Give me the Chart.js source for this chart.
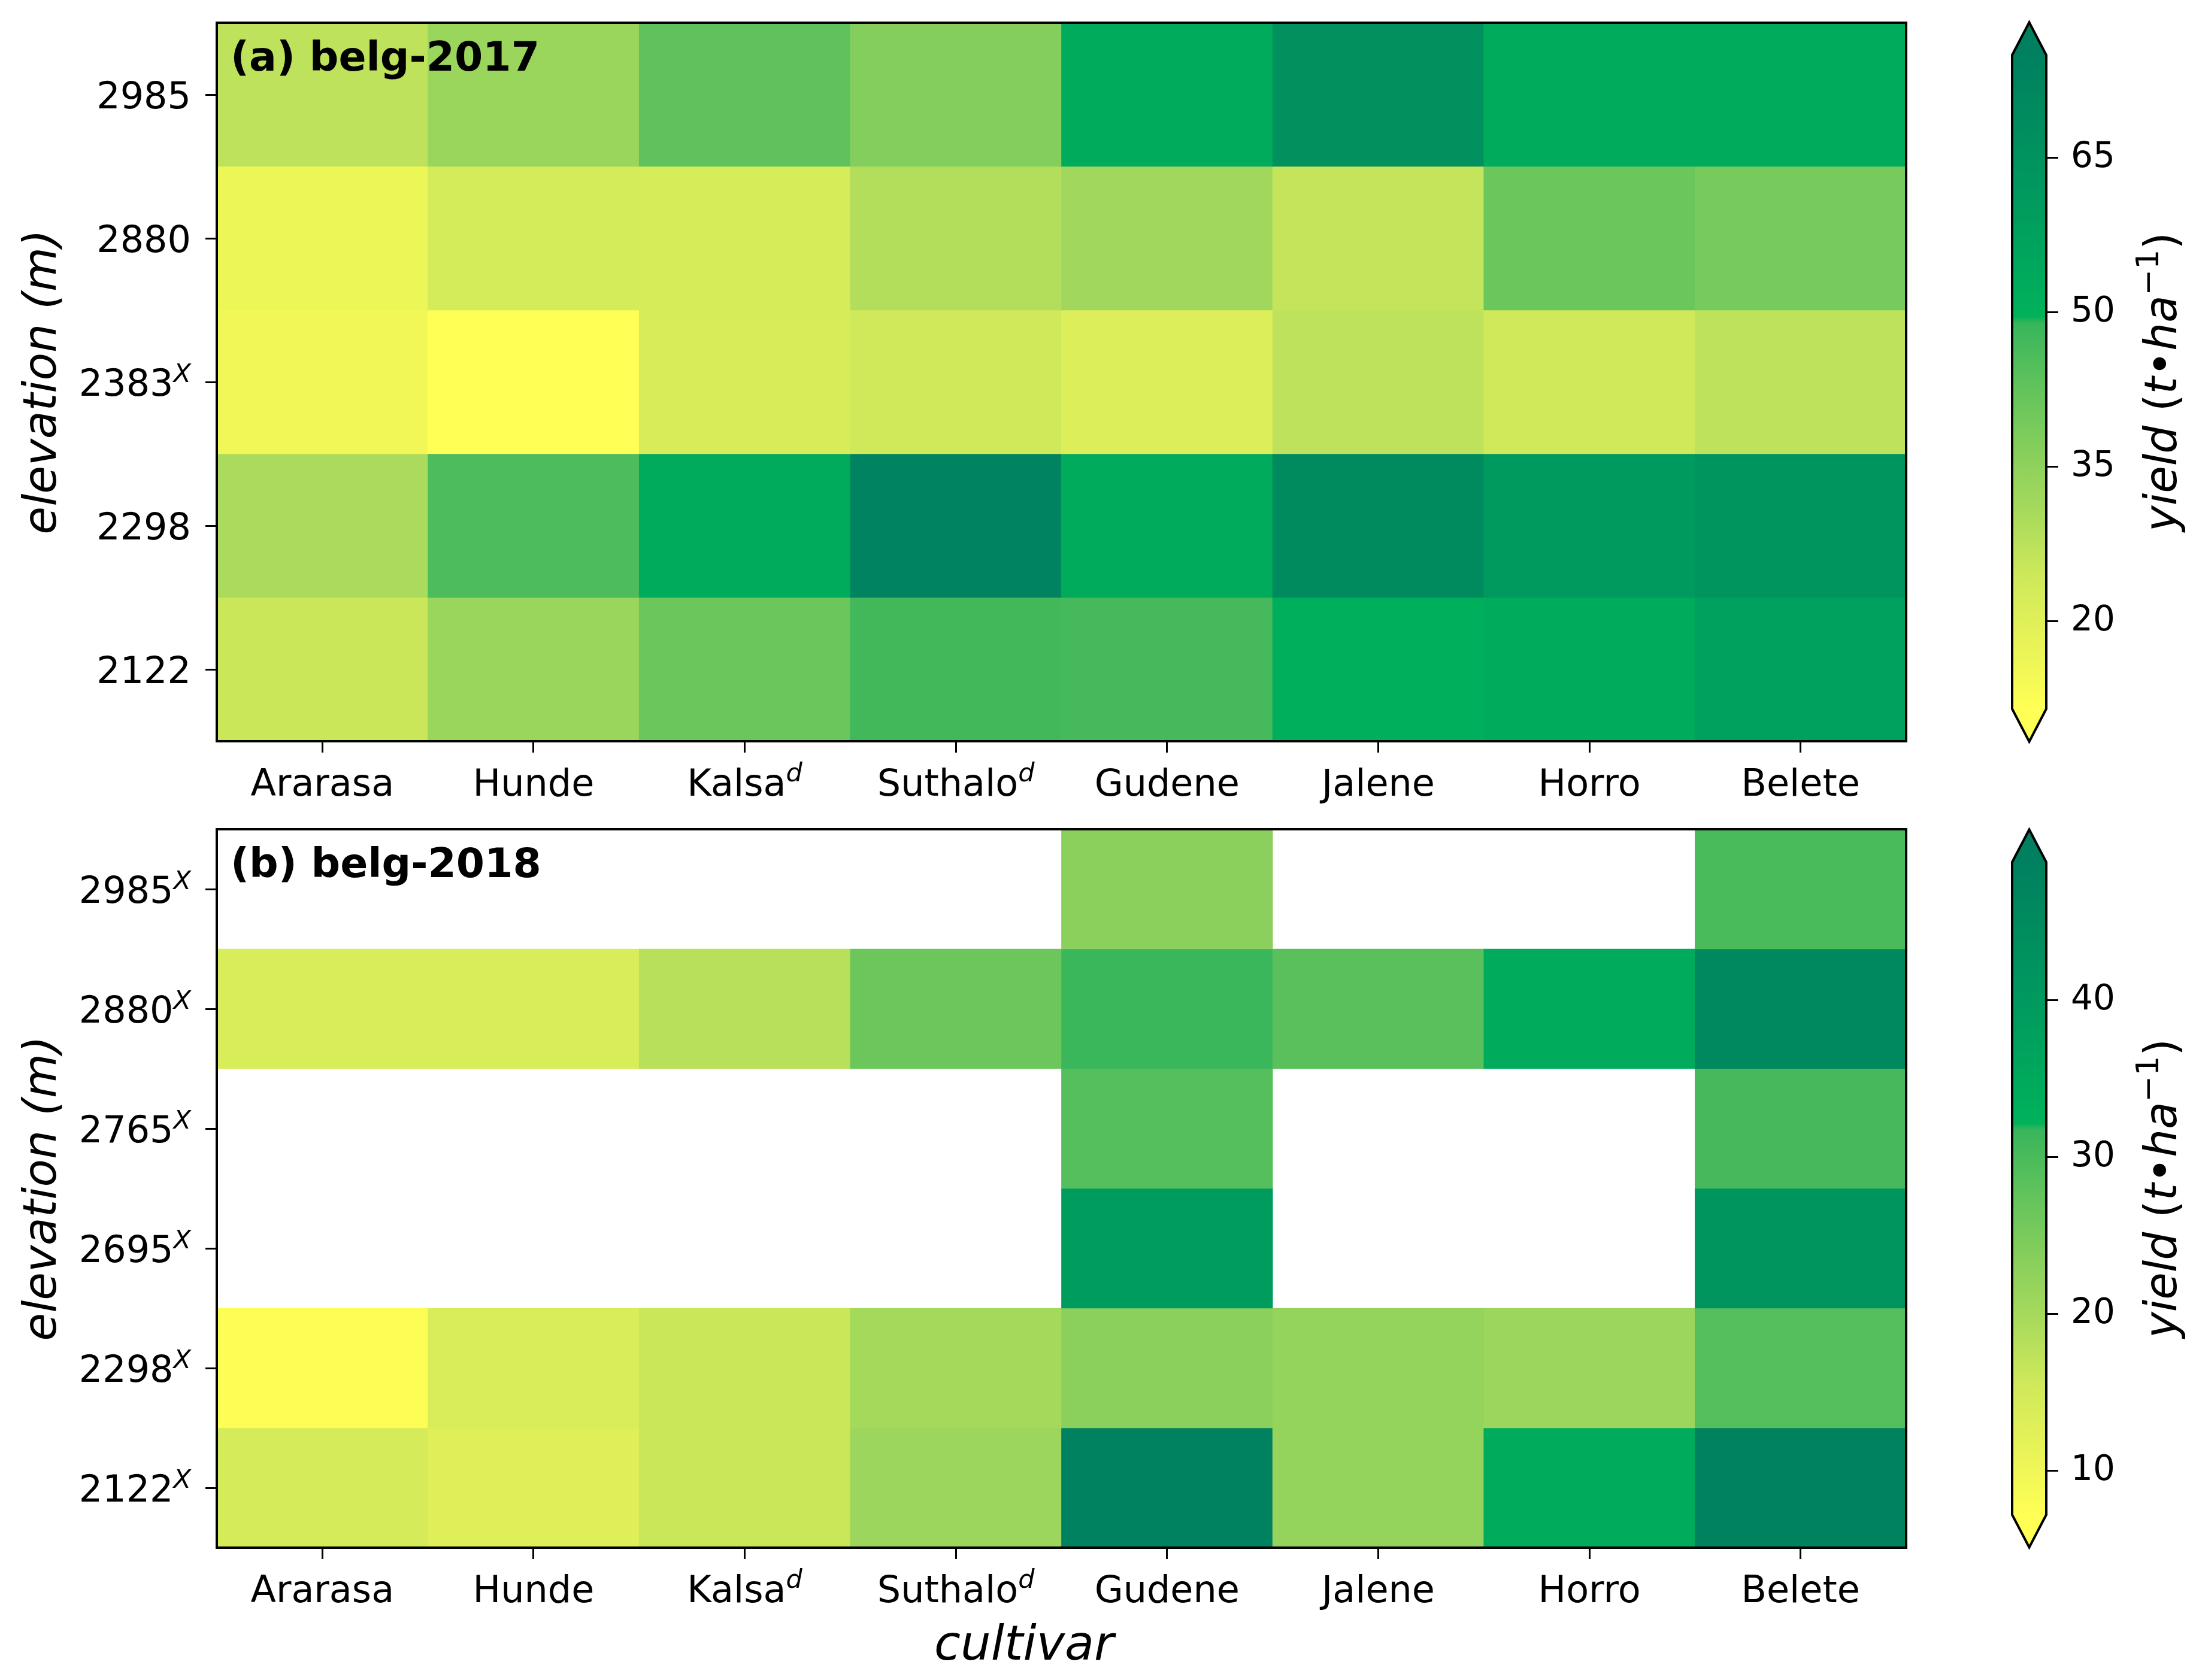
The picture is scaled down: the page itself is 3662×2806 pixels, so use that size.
<!DOCTYPE html>
<html>
<head>
<meta charset="utf-8">
<script src="https://cdn.jsdelivr.net/npm/chart.js@4.4.0/dist/chart.umd.min.js"></script>
<style>
  html, body { margin: 0; padding: 0; background: #fff; }
  body { width: 3662px; height: 2806px; position: relative; overflow: hidden; }
  canvas { position: absolute; }
</style>
</head>
<body>
<canvas id="heatA" width="3300" height="1370" style="left:0;top:0"></canvas>
<canvas id="barA" width="362" height="1370" style="left:3300px;top:0"></canvas>
<canvas id="heatB" width="3300" height="1436" style="left:0;top:1370px"></canvas>
<canvas id="barB" width="362" height="1436" style="left:3300px;top:1370px"></canvas>
<script>
// cultivars (x axis) and their superscripts
const cultivars = ['Ararasa', 'Hunde', 'Kalsa', 'Suthalo', 'Gudene', 'Jalene', 'Horro', 'Belete'];
const cultivarSup = ['', '', 'd', 'd', '', '', '', ''];

// (a) belg-2017 : elevations top -> bottom
const elev2017 = ['2985', '2880', '2383', '2298', '2122'];
const elev2017Sup = ['', '', 'X', '', ''];
const belg2017_2985 = [27, 33, 43, 37, 52.5, 66, 53, 53];
const belg2017_2880 = [16.5, 23, 22.5, 29, 32, 26, 41, 39];
const belg2017_2383 = [15.5, 11.5, 22, 24, 21, 27, 24, 27];
const belg2017_2298 = [30, 46, 52.5, 73, 53, 69, 62, 64];
const belg2017_2122 = [25, 33, 41, 47.5, 47, 51, 53, 58];
const range2017 = [11.5, 75];
const ticks2017 = [20, 35, 50, 65];

// (b) belg-2018 : null = no data
const elev2018 = ['2985', '2880', '2765', '2695', '2298', '2122'];
const elev2018Sup = ['X', 'X', 'X', 'X', 'X', 'X'];
const belg2018_2985 = [null, null, null, null, 23, null, null, 30];
const belg2018_2880 = [14, 14, 18, 26.5, 31.5, 28.5, 34, 46];
const belg2018_2765 = [null, null, null, null, 29, null, null, 30.5];
const belg2018_2695 = [null, null, null, null, 39, null, null, 42];
const belg2018_2298 = [7.5, 14, 16, 20, 23, 22, 21, 29];
const belg2018_2122 = [14.5, 13, 16, 21, 48.5, 22, 34, 48];
const range2018 = [7.2, 48.8];
const ticks2018 = [10, 20, 30, 40];

// colormap (yellow -> green -> dark green)
const cmapStops = [0, 0.1, 0.2, 0.3, 0.4, 0.5, 0.59, 0.6, 0.75, 1.0];
const cmapColors = ['#ffff55', '#e8f358', '#cfe95a', '#a8da5c', '#84ce5c', '#5ec25c',
                    '#38b55b', '#00b25a', '#009e5e', '#00805f'];

const FONT = "'DejaVu Sans', sans-serif";

function hexRgb(h) {
  return [parseInt(h.slice(1, 3), 16), parseInt(h.slice(3, 5), 16), parseInt(h.slice(5, 7), 16)];
}

function cmap(v, lo, hi) {
  let t = (v - lo) / (hi - lo);
  t = Math.max(0, Math.min(1, t));
  for (let k = 1; k < cmapStops.length; k++) {
    if (t <= cmapStops[k]) {
      const f = (t - cmapStops[k - 1]) / (cmapStops[k] - cmapStops[k - 1]);
      const a = hexRgb(cmapColors[k - 1]), b = hexRgb(cmapColors[k]);
      const c = a.map((x, i) => Math.round(x + (b[i] - x) * f));
      return `rgb(${c[0]},${c[1]},${c[2]})`;
    }
  }
  return cmapColors[cmapColors.length - 1];
}

// draw text made of parts with different fonts (for superscripts)
function drawRich(ctx, parts, x, y, align) {
  let w = 0;
  parts.forEach(p => { ctx.font = p.font; p.w = ctx.measureText(p.t).width; w += p.w; });
  let cx = align === 'right' ? x - w : align === 'center' ? x - w / 2 : x;
  ctx.textAlign = 'left';
  ctx.textBaseline = 'alphabetic';
  parts.forEach(p => {
    ctx.font = p.font;
    ctx.fillText(p.t, cx, y + (p.dy || 0));
    cx += p.w;
  });
}

const heatLabels = {
  id: 'heatLabels',
  afterDraw(chart, args, o) {
    const ctx = chart.ctx, ca = chart.chartArea;
    const xs = chart.scales.x, ys = chart.scales.y;
    ctx.save();
    ctx.fillStyle = '#000';
    o.rows.forEach((lab, i) => {
      const y = ys.getPixelForValue(i);
      const parts = [{ t: lab, font: `62px ${FONT}` }];
      if (o.rowSup[i]) parts.push({ t: o.rowSup[i], font: `italic 43px ${FONT}`, dy: -23 });
      drawRich(ctx, parts, ca.left - 43, y + 23, 'right');
    });
    cultivars.forEach((lab, j) => {
      const x = xs.getPixelForValue(j);
      const parts = [{ t: lab, font: `62px ${FONT}` }];
      if (cultivarSup[j]) parts.push({ t: cultivarSup[j], font: `italic 43px ${FONT}`, dy: -24 });
      drawRich(ctx, parts, x, ca.bottom + 91, 'center');
    });
    ctx.lineWidth = 4;
    ctx.strokeStyle = '#000';
    ctx.strokeRect(ca.left, ca.top, ca.width, ca.height);
    ctx.font = `bold 68px ${FONT}`;
    ctx.textAlign = 'left';
    ctx.fillText(o.tag, ca.left + 23, ca.top + 80);

    // y axis title
    ctx.save();
    ctx.translate(73, (ca.top + ca.bottom) / 2);
    ctx.rotate(-Math.PI / 2);
    ctx.font = `italic 76px ${FONT}`;
    ctx.textAlign = 'center';
    ctx.textBaseline = 'middle';
    ctx.fillText('elevation (m)', 0, 0);
    ctx.restore();

    // x axis title
    if (o.xTitle) {
      ctx.font = `italic 80px ${FONT}`;
      ctx.textAlign = 'center';
      ctx.textBaseline = 'alphabetic';
      ctx.fillText(o.xTitle, 1710, ca.bottom + 187);
    }
    ctx.restore();
  }
};

function makeHeat(id, rows, rowSup, table, range, tag, opt) {
  const datasets = table.map((row, i) => ({
    data: row.map(v => v == null ? null : [i - 0.5, i + 0.5]),
    backgroundColor: row.map(v => v == null ? 'rgba(0,0,0,0)' : cmap(v, range[0], range[1])),
    borderWidth: 0,
    barPercentage: 1,
    categoryPercentage: 1,
    grouped: false
  }));
  return new Chart(document.getElementById(id), {
    type: 'bar',
    data: { labels: cultivars, datasets: datasets },
    options: {
      responsive: false,
      animation: false,
      devicePixelRatio: 1,
      layout: { padding: { left: 0, right: 117, top: opt.padTop, bottom: 0 } },
      plugins: {
        legend: { display: false },
        tooltip: { enabled: false },
        heatLabels: { rows: rows, rowSup: rowSup, tag: tag, xTitle: opt.xTitle }
      },
      scales: {
        x: {
          afterFit: s => { s.height = opt.xHeight; },
          ticks: { display: false },
          grid: { offset: false, drawOnChartArea: false, drawTicks: true, tickLength: 19, tickWidth: 3, color: '#000' },
          border: { display: false }
        },
        y: {
          reverse: true,
          min: -0.5,
          max: rows.length - 0.5,
          afterBuildTicks: s => { s.ticks = rows.map((r, i) => ({ value: i })); },
          afterFit: s => { s.width = 362; },
          ticks: { display: false },
          grid: { drawOnChartArea: false, drawTicks: true, tickLength: 19, tickWidth: 3, color: '#000' },
          border: { display: false }
        }
      }
    },
    plugins: [heatLabels]
  });
}

const cbarFrame = {
  id: 'cbarFrame',
  afterDraw(chart, args, o) {
    const ctx = chart.ctx, ca = chart.chartArea;
    const ext = 0.05 * ca.height;
    const cx = (ca.left + ca.right) / 2;
    ctx.save();
    ctx.fillStyle = cmap(o.range[1], o.range[0], o.range[1]);
    ctx.beginPath();
    ctx.moveTo(ca.left, ca.top); ctx.lineTo(cx, ca.top - ext); ctx.lineTo(ca.right, ca.top); ctx.closePath();
    ctx.fill();
    ctx.fillStyle = cmap(o.range[0], o.range[0], o.range[1]);
    ctx.beginPath();
    ctx.moveTo(ca.left, ca.bottom); ctx.lineTo(cx, ca.bottom + ext); ctx.lineTo(ca.right, ca.bottom); ctx.closePath();
    ctx.fill();
    ctx.lineWidth = 4;
    ctx.strokeStyle = '#000';
    ctx.lineJoin = 'miter';
    ctx.beginPath();
    ctx.moveTo(ca.left, ca.top); ctx.lineTo(cx, ca.top - ext); ctx.lineTo(ca.right, ca.top);
    ctx.lineTo(ca.right, ca.bottom); ctx.lineTo(cx, ca.bottom + ext); ctx.lineTo(ca.left, ca.bottom);
    ctx.closePath();
    ctx.stroke();
    // colorbar label
    ctx.fillStyle = '#000';
    ctx.translate(310, (ca.top + ca.bottom) / 2);
    ctx.rotate(-Math.PI / 2);
    const it = `italic 74px ${FONT}`, rm = `74px ${FONT}`;
    drawRich(ctx, [
      { t: 'yield', font: it }, { t: ' (', font: rm }, { t: 't', font: it },
      { t: '\u2022', font: rm }, { t: 'ha', font: it },
      { t: '\u22121', font: `52px ${FONT}`, dy: -30 }, { t: ')', font: rm }
    ], 0, 24, 'center');
    ctx.restore();
  }
};

function makeBar(id, range, ticks, padTop, padBottom) {
  return new Chart(document.getElementById(id), {
    type: 'bar',
    data: {
      labels: [''],
      datasets: [{
        data: [[range[0], range[1]]],
        backgroundColor: c => {
          const ca = c.chart.chartArea;
          if (!ca) return cmapColors[0];
          const g = c.chart.ctx.createLinearGradient(0, ca.bottom, 0, ca.top);
          cmapStops.forEach((s, k) => g.addColorStop(s, cmapColors[k]));
          return g;
        },
        borderWidth: 0,
        barPercentage: 1,
        categoryPercentage: 1
      }]
    },
    options: {
      responsive: false,
      animation: false,
      devicePixelRatio: 1,
      layout: { padding: { left: 60, right: 0, top: padTop, bottom: padBottom } },
      plugins: { legend: { display: false }, tooltip: { enabled: false }, cbarFrame: { range: range } },
      scales: {
        x: { display: false },
        y: {
          position: 'right',
          min: range[0],
          max: range[1],
          afterBuildTicks: s => { s.ticks = ticks.map(v => ({ value: v })); },
          afterFit: s => { s.width = 245; },
          ticks: { font: { family: FONT, size: 58 }, color: '#000', padding: 21 },
          grid: { drawOnChartArea: false, drawTicks: true, tickLength: 20, tickWidth: 3, color: '#000' },
          border: { display: false }
        }
      }
    },
    plugins: [cbarFrame]
  });
}

makeHeat('heatA', elev2017, elev2017Sup,
  [belg2017_2985, belg2017_2880, belg2017_2383, belg2017_2298, belg2017_2122],
  range2017, '(a) belg-2017', { padTop: 38, xHeight: 132 });
makeHeat('heatB', elev2018, elev2018Sup,
  [belg2018_2985, belg2018_2880, belg2018_2765, belg2018_2695, belg2018_2298, belg2018_2122],
  range2018, '(b) belg-2018', { padTop: 15, xHeight: 221, xTitle: 'cultivar' });
makeBar('barA', range2017, ticks2017, 92, 1370 - 1184);
makeBar('barB', range2018, ticks2018, 70, 1436 - 1160);
</script>
</body>
</html>
